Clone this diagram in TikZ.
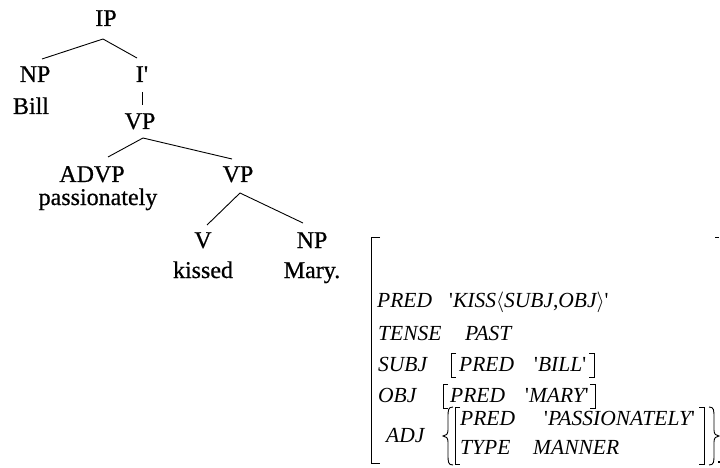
\documentclass[tikz,border=0pt]{standalone}
\usepackage{fontspec}
\newfontfamily\treefont{Liberation Serif}[FakeBold=0.7]
\newfontfamily\avmfont{Liberation Serif}
\newcommand{\q}{{\upshape'}}
\begin{document}
\begin{tikzpicture}[x=1pt,y=-1pt,
  tn/.style={anchor=base,inner sep=0pt,font=\treefont\fontsize{24}{28}\selectfont},
  av/.style={anchor=base west,inner sep=0pt,font=\avmfont\itshape\fontsize{21.5}{25}\selectfont},
  br/.style={line width=0.9pt},
  tl/.style={line width=0.9pt}]
\useasboundingbox (0,0) rectangle (720,468);
% tree
\node[tn] (IP) at (106,26) {IP};
\node[tn] (NP) at (35,82) {NP};
\node[tn] (Bill) at (31,114) {Bill};
\node[tn] (Ib) at (142,82) {I'};
\node[tn] (VP) at (140,129) {VP};
\node[tn] (ADVP) at (92,182) {ADVP};
\node[tn] (pass) at (98,205) {passionately};
\node[tn] (VPb) at (238,182) {VP};
\node[tn] (V) at (203,248) {V};
\node[tn] (kissed) at (203,278) {kissed};
\node[tn] (NPb) at (312,248) {NP};
\node[tn] (Mary) at (312,278) {Mary.};
\draw[tl] ([shift={(-3,13)}]IP.base) -- ([shift={(7,-23)}]NP.base);
\draw[tl] ([shift={(-3,13)}]IP.base) -- ([shift={(-5,-24)}]Ib.base);
\draw[tl] ([shift={(0,10)}]Ib.base) -- ([shift={(2,-24)}]VP.base);
\draw[tl] ([shift={(3,9)}]VP.base) -- ([shift={(16,-25)}]ADVP.base);
\draw[tl] ([shift={(3,9)}]VP.base) -- ([shift={(-6,-23)}]VPb.base);
\draw[tl] ([shift={(2,11)}]VPb.base) -- ([shift={(4,-23)}]V.base);
\draw[tl] ([shift={(2,11)}]VPb.base) -- ([shift={(-9,-25)}]NPb.base);
% AVM outer bracket
\draw[br] (380,237) -- (371,237) -- (371,463) -- (380,463);
\draw[br] (715,237) -- (719,237);
\fill (718,461) rectangle (720,463);
% rows
\node[av] (p1) at (377,307) {PRED};
\node[av] (k1) at (449,307) {\q KISS$\langle$SUBJ{\upshape,}OBJ$\rangle$\q};
\node[av] (t1) at (378,340) {TENSE};
\node[av] (t2) at (465,340) {PAST};
\node[av] (s1) at (378,371) {SUBJ};
\node[av] (s2) at (459,371) {PRED};
\node[av] (s3) at (534,371) {\q BILL\q};
\draw[br] (456,353) -- (451,353) -- (451,377) -- (456,377);
\draw[br] (589,353) -- (594,353) -- (594,377) -- (589,377);
\node[av] (o1) at (378,402) {OBJ};
\node[av] (o2) at (450,402) {PRED};
\node[av] (o3) at (525,402) {\q MARY\q};
\draw[br] (448,384) -- (443,384) -- (443,408) -- (448,408);
\draw[br] (590,384) -- (595,384) -- (595,408) -- (590,408);
\node[av] (a1) at (386,442) {ADJ};
\node[av] (a2) at (460,425) {PRED};
\node[av] (a3) at (544,425) {\q PASSIONATELY\q};
\node[av] (a4) at (460,454) {TYPE};
\node[av] (a5) at (533,454) {MANNER};
\draw[br] (460,407) -- (455,407) -- (455,464) -- (460,464);
\draw[br] (699,407) -- (704,407) -- (704,464) -- (699,464);
\draw[br] (453,407) .. controls (448,407) and (448,410) .. (448,418) -- (448,430)
  .. controls (448,434) and (446,436) .. (443,436) .. controls (446,436) and (448,438) .. (448,442)
  -- (448,454) .. controls (448,462) and (448,465) .. (453,465);
\draw[br] (709,407) .. controls (714,407) and (714,410) .. (714,418) -- (714,430)
  .. controls (714,434) and (716,436) .. (719,436) .. controls (716,436) and (714,438) .. (714,442)
  -- (714,454) .. controls (714,462) and (714,465) .. (709,465);
\end{tikzpicture}
\end{document}
